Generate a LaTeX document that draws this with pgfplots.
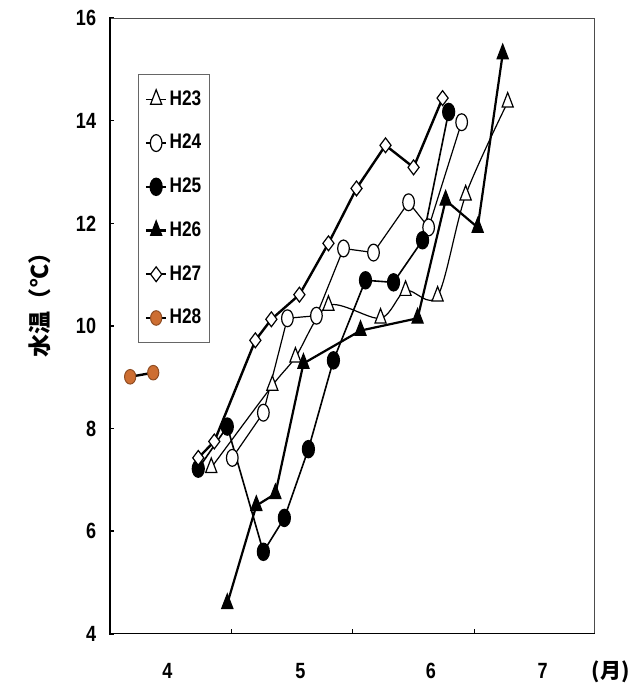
\documentclass[border=0pt]{standalone}
\usepackage{pgfplots}
\pgfplotsset{compat=1.18}
\usepackage{fontspec}
\setmainfont{Liberation Sans}[FakeStretch=0.82]
\newfontfamily\cjk{Noto Sans CJK JP}
\definecolor{orng}{RGB}{205,110,50}
\begin{document}
\begin{tikzpicture}
\begin{axis}[name=ax, scale only axis, width=242.5pt, height=307.5pt,
  xmin=4, xmax=8, ymin=4, ymax=16,
  ytick={4,6,...,16}, ytick pos=left, xtick pos=bottom,
  xtick={5.006,6.004,7.01}, xticklabels={},
  extra x ticks={4.48,5.575,6.65,7.57}, extra x tick labels={4,5,6,7},
  extra x tick style={major tick length=0pt},
  major tick length=2.5pt,
  tick style={line width=0.8pt, black},
  axis line style={line width=0.5pt, draw=black!70},
  /pgf/number format/assume math mode=true,
  tick label style={font=\fontsize{11}{11}\selectfont\bfseries},
  yticklabel style={xshift=-3pt},
  xticklabel style={yshift=-11pt},
  ylabel={\cjk\bfseries 水温（℃）},
  ylabel style={at={(axis description cs:-0.142,0.543)}, anchor=center, font=\fontsize{11.5}{11.5}\selectfont},
  legend style={at={(0.06,0.909)}, anchor=north west, draw=black!60, line width=0.4pt,
    font=\fontsize{10.5}{10.5}\selectfont\bfseries, row sep=11pt, inner xsep=3pt, inner ysep=7pt,
    nodes={inner sep=1pt}},
  legend cell align=left,
  legend image code/.code={\draw[mark repeat=2,mark phase=2] plot coordinates {(0cm,0cm) (0.18cm,0cm) (0.36cm,0cm)};},
]
\addplot[black, line width=0.6pt, smooth, tension=0.5, mark=triangle*, mark size=3.2pt,
  mark options={fill=white, yscale=1.5, line width=0.6pt}] coordinates {
  (4.841,7.24) (5.344,8.84) (5.534,9.39) (5.806,10.40) (6.235,10.15)
  (6.441,10.69) (6.705,10.58) (6.936,12.55) (7.282,14.36)};
\addlegendentry{H23}
\addplot[black, line width=0.6pt, mark=*, mark size=2.9pt,
  mark options={fill=white, yscale=1.45, line width=0.6pt}] coordinates {
  (5.014,7.43) (5.270,8.31) (5.468,10.15) (5.707,10.20) (5.930,11.51)
  (6.177,11.43) (6.466,12.41) (6.631,11.92) (6.903,13.97)};
\addlegendentry{H24}
\addplot[black, line width=0.8pt, mark=*, mark size=2.9pt,
  mark options={fill=black, yscale=1.45}] coordinates {
  (4.734,7.22) (4.973,8.04) (5.270,5.60) (5.443,6.26) (5.641,7.60)
  (5.847,9.33) (6.111,10.89) (6.342,10.85) (6.581,11.67) (6.796,14.17)};
\addlegendentry{H25}
\addplot[black, line width=1.1pt, mark=triangle*, mark size=3.2pt,
  mark options={fill=black, yscale=1.5, line width=0.6pt}] coordinates {
  (4.973,4.59) (5.212,6.50) (5.369,6.73) (5.600,9.27) (6.070,9.91)
  (6.540,10.15) (6.771,12.45) (7.035,11.92) (7.241,15.30)};
\addlegendentry{H26}
\addplot[black, line width=1.2pt, mark=diamond*, mark size=3.7pt,
  mark options={fill=white, line width=0.6pt}] coordinates {
  (4.734,7.43) (4.866,7.75) (5.204,9.72) (5.336,10.13) (5.567,10.61)
  (5.806,11.61) (6.037,12.68) (6.276,13.52) (6.507,13.09) (6.746,14.44)};
\addlegendentry{H27}
\addplot[black, line width=1.2pt, mark=*, mark size=2.8pt,
  mark options={fill=orng, draw=orng!70!black, yscale=1.3, line width=0.5pt}] coordinates {
  (4.173,9.01) (4.363,9.09)};
\addlegendentry{H28}
\draw[line width=1.4pt, black] (rel axis cs:0,1) -- (rel axis cs:0,0) -- (rel axis cs:1,0);
\end{axis}
\node[font=\cjk\bfseries\fontsize{10.5}{10.5}\selectfont] at ([xshift=8pt, yshift=-19pt]ax.south east) {(月)};
\pgfresetboundingbox
\path[use as bounding box] ([xshift=-54.5pt, yshift=-27pt]ax.south west) rectangle ([xshift=20.5pt, yshift=9pt]ax.north east);
\end{tikzpicture}
\end{document}
